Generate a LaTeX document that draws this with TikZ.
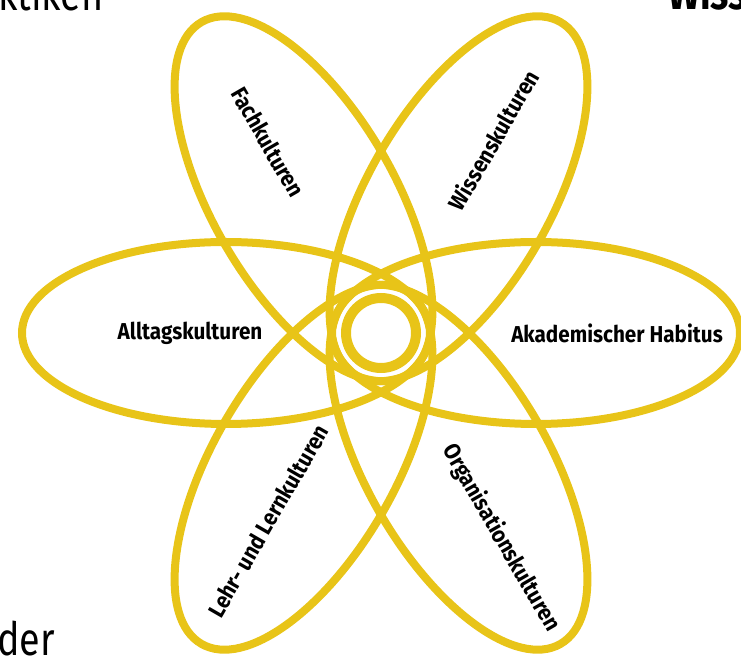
\documentclass[tikz,border=0pt]{standalone}
\usepackage{fontspec}
\setmainfont{Fira Sans}
\newfontfamily\culturefont{Fira Sans}[FakeStretch=0.9]
\newfontfamily\edgefont{Fira Sans}[FakeStretch=0.82]
\usepackage{xcolor}
\usetikzlibrary{positioning}
\definecolor{atomgold}{RGB}{232, 196, 24}

\begin{document}
\begin{tikzpicture}[
  x=1pt, y=1pt,
  petal/.style={draw=atomgold, line width=8pt},
  culture/.style={font=\culturefont\bfseries\fontsize{23}{27}\selectfont,
                  inner sep=1pt, text=black},
  cuttext/.style={font=\edgefont\fontsize{46}{50}\selectfont,
                  inner sep=0pt, anchor=base west}
]

\useasboundingbox (0,0) rectangle (741,661);
\clip (0,0) rectangle (741,661);

\coordinate (core) at (381,328);

% six petals round the core
\foreach \ang in {0,60,...,300}
  \draw[petal, shift={(core)}, rotate=\ang] (155,0) ellipse [x radius=204, y radius=91];

% nucleus
\draw[petal, line width=10pt] (core) circle [radius=35];

% labels
\node[culture, rotate=-60] (fach)    at (268,519) {Fachkulturen};
\node[culture, rotate=60]  (wiss)    at (493,521) {Wissenskulturen};
\node[culture]             (alltag)  at (190,328) {Alltagskulturen};
\node[culture]             (habitus) at (617,328) {Akademischer Habitus};
\node[culture, rotate=60]  (lehr)    at (268,140) {Lehr- und Lernkulturen};
\node[culture, rotate=-60] (orga)    at (501,123) {Organisationskulturen};

% cut-off text at the edges
\node[cuttext] (topleft) at (-2,650) {ktiken};
\node[cuttext, font=\edgefont\bfseries\fontsize{46}{50}\selectfont] (topright) at (668,651) {Wiss};
\node[cuttext] (bottomleft) at (-3,6) {der};

\end{tikzpicture}
\end{document}
